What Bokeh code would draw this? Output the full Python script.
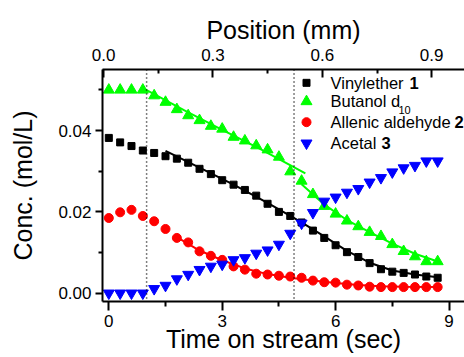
from bokeh.plotting import figure
from bokeh.models import Range1d, LinearAxis, Span, FixedTicker, PrintfTickFormatter
from bokeh.core.properties import value
from bokeh.embed import file_html
from bokeh.resources import INLINE

# ---------------- data ----------------
time_s = [0.0, 0.3, 0.6, 0.9, 1.2, 1.5, 1.8, 2.1, 2.4, 2.7, 3.0, 3.3, 3.6, 3.9, 4.2,
          4.5, 4.8, 5.1, 5.4, 5.7, 6.0, 6.3, 6.6, 6.9, 7.2, 7.5, 7.8, 8.1, 8.4, 8.7]

vinylether = [0.0382, 0.0371, 0.0362, 0.0351, 0.0345, 0.0337, 0.0331, 0.0321, 0.0306, 0.0293,
              0.0278, 0.0267, 0.0254, 0.0240, 0.0220, 0.0200, 0.0190, 0.0174, 0.0154, 0.0136,
              0.0118, 0.0101, 0.0089, 0.0074, 0.0059, 0.0053, 0.0050, 0.0046, 0.0041, 0.0038]

butanol = [0.0500, 0.0500, 0.0500, 0.0500, 0.0486, 0.0470, 0.0452, 0.0437, 0.0425, 0.0411,
           0.0404, 0.0384, 0.0375, 0.0363, 0.0353, 0.0335, 0.0299, 0.0276, 0.0243, 0.0214,
           0.0195, 0.0178, 0.0164, 0.0150, 0.0140, 0.0120, 0.0103, 0.0090, 0.0078, 0.0078]

allenic = [0.0185, 0.0199, 0.0205, 0.0190, 0.0177, 0.0158, 0.0136, 0.0125, 0.0103, 0.0092,
           0.0082, 0.0066, 0.0058, 0.0048, 0.0046, 0.0043, 0.0041, 0.0038, 0.0031, 0.0027,
           0.0026, 0.0021, 0.0019, 0.0016, 0.0015, 0.0015, 0.0015, 0.0015, 0.0015, 0.0015]

acetal = [0.0000, 0.0000, 0.0000, 0.0000, 0.0011, 0.0019, 0.0035, 0.0046, 0.0058, 0.0066,
          0.0071, 0.0082, 0.0087, 0.0098, 0.0106, 0.0120, 0.0147, 0.0172, 0.0198, 0.0226,
          0.0236, 0.0248, 0.0257, 0.0273, 0.0284, 0.0298, 0.0308, 0.0314, 0.0325, 0.0325]

# fitted curves
fit_vinyl_t = [1.5, 2.4, 3.3, 4.2, 5.1, 5.7, 6.3, 6.9, 7.5, 8.1, 8.7]
fit_vinyl_c = [0.0350, 0.0309, 0.0267, 0.0222, 0.0174, 0.0140, 0.0104, 0.0075, 0.0056, 0.0046, 0.0039]

fit_buta1_t = [0.95, 2.0, 3.0, 4.0, 5.2]
fit_buta1_c = [0.0502, 0.0450, 0.0402, 0.0355, 0.0295]

fit_buta2_t = [5.1, 5.7, 6.3, 6.9, 7.5, 8.1, 8.7]
fit_buta2_c = [0.0268, 0.0218, 0.0180, 0.0150, 0.0122, 0.0097, 0.0078]

fit_allen_t = [1.8, 2.4, 3.0, 3.6, 4.2, 4.8, 5.4, 6.0, 6.6, 7.2, 7.8, 8.7]
fit_allen_c = [0.0138, 0.0105, 0.0081, 0.0061, 0.0047, 0.0038, 0.0031, 0.0025, 0.0020, 0.0017, 0.0016, 0.0015]

marker_times = [1.0, 4.9]

x_ticks = [0, 3, 6, 9]
x_minor = [1.5, 4.5, 7.5]
y_ticks = [0.00, 0.02, 0.04]
y_minor = [0.01, 0.03, 0.05]
pos_ticks = [0.0, 0.3, 0.6, 0.9]
pos_minor = [0.15, 0.45, 0.75]

FONT = "Liberation Sans"

p = figure(width=464, height=357, output_backend="svg", toolbar_location=None,
           x_range=Range1d(-0.167, 9.41), y_range=Range1d(-0.00204, 0.05503),
           min_border_left=102, min_border_right=0, min_border_top=69, min_border_bottom=56)
p.outline_line_color = None
p.grid.visible = False
p.background_fill_color = "white"
p.border_fill_color = "white"

xa = p.below[0]
ya = p.left[0]

p.extra_x_ranges = {"pos": Range1d(-0.003, 0.990)}
top = LinearAxis(x_range_name="pos")
p.add_layout(top, "above")


def style(ax, tick_font=17, label_font=25):
    ax.axis_line_width = 2
    ax.major_tick_line_width = 2
    ax.minor_tick_line_width = 2
    ax.major_label_text_font = FONT
    ax.major_label_text_font_size = f"{tick_font}px"
    ax.major_label_text_color = "black"
    ax.axis_label_text_font = FONT
    ax.axis_label_text_font_size = f"{label_font}px"
    ax.axis_label_text_font_style = "normal"
    ax.axis_label_text_color = "black"


style(xa)
xa.ticker = FixedTicker(ticks=x_ticks, minor_ticks=x_minor)
xa.axis_label = "Time on stream (sec)"
xa.major_tick_in = 0
xa.major_tick_out = 9
xa.minor_tick_in = 0
xa.minor_tick_out = 5
xa.major_label_standoff = 4
xa.axis_label_standoff = -5

style(ya)
ya.ticker = FixedTicker(ticks=y_ticks, minor_ticks=y_minor)
ya.formatter = PrintfTickFormatter(format="%.2f")
ya.axis_label = "Conc. (mol/L)"
ya.major_tick_in = 0
ya.major_tick_out = 7
ya.minor_tick_in = 0
ya.minor_tick_out = 4
ya.major_label_standoff = 4
ya.axis_label_standoff = 18

style(top)
top.axis_label = "Position (mm)"
top.ticker = FixedTicker(ticks=pos_ticks, minor_ticks=pos_minor)
top.formatter = PrintfTickFormatter(format="%.1f")
top.major_tick_in = 8
top.major_tick_out = 0
top.minor_tick_in = 4
top.minor_tick_out = 0
top.major_label_standoff = 9
top.axis_label_standoff = 2

for t in marker_times:
    p.add_layout(Span(location=t, dimension="height", line_color="black",
                      line_width=1.5, line_dash="1 3"))

# fit lines
p.line(fit_vinyl_t, fit_vinyl_c, line_color="black", line_width=2)
p.line(fit_buta1_t, fit_buta1_c, line_color="#00ff00", line_width=2)
p.line(fit_buta2_t, fit_buta2_c, line_color="#00ff00", line_width=2)
p.line(fit_allen_t, fit_allen_c, line_color="#ff0000", line_width=2)

# data points
p.scatter(time_s, vinylether, marker="square", size=7, color="black")
p.scatter(time_s, butanol, marker="triangle", size=11, color="#00ff00")
p.scatter(time_s, allenic, marker="circle", size=9, color="#ff0000")
p.scatter(time_s, acetal, marker="inverted_triangle", size=11, color="#0000ff")

# legend (hand-built to allow bold numbers and subscript)
leg_mx = 5.23
leg_tx = 5.865
leg_rows = [0.05175, 0.04716, 0.04207, 0.03690]
p.scatter([leg_mx], [leg_rows[0]], marker="square", size=7, color="black")
p.scatter([leg_mx], [leg_rows[1]], marker="triangle", size=11, color="#00ff00")
p.scatter([leg_mx], [leg_rows[2]], marker="circle", size=9, color="#ff0000")
p.scatter([leg_mx], [leg_rows[3]], marker="inverted_triangle", size=11, color="#0000ff")

legend_names = ["Vinylether", "Butanol d", "Allenic aldehyde", "Acetal"]
p.text(x=[leg_tx] * 4, y=leg_rows, text=legend_names,
       text_font=value(FONT), text_font_size="16.5px", text_baseline="middle",
       text_color="black")
bold_nums = ["1", "2", "3"]
bold_rows = [leg_rows[0], leg_rows[2], leg_rows[3]]
bold_offsets = [79, 124, 51]
for n, yy, dx in zip(bold_nums, bold_rows, bold_offsets):
    p.text(x=[leg_tx], y=[yy], text=[n], x_offset=dx,
           text_font=value(FONT), text_font_size="16.5px", text_font_style="bold",
           text_baseline="middle", text_color="black")
p.text(x=[leg_tx], y=[leg_rows[1]], text=["10"], x_offset=68, y_offset=9,
       text_font=value(FONT), text_font_size="11px", text_baseline="middle",
       text_color="black")

open("out.html", "w").write(file_html(p, INLINE))
